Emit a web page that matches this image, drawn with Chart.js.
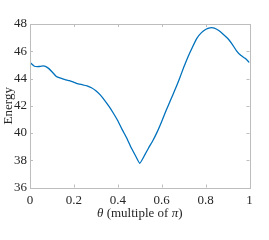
<!DOCTYPE html>
<html>
<head>
<meta charset="utf-8">
<script src="https://cdn.jsdelivr.net/npm/chart.js@4/dist/chart.umd.min.js"></script>
<style>
  html, body { margin: 0; padding: 0; background: #fff; }
  #wrap { width: 269px; height: 240px; position: relative; }
</style>
</head>
<body>
<div id="wrap"><canvas id="c" width="269" height="240"></canvas></div>
<script>
const thetaValues = [0.00,0.02,0.04,0.06,0.08,0.10,0.12,0.14,0.16,0.18,0.20,0.22,0.24,0.26,0.28,0.30,0.32,0.34,0.36,0.38,0.40,0.42,0.44,0.46,0.48,0.50,0.52,0.54,0.56,0.58,0.60,0.62,0.64,0.66,0.68,0.70,0.72,0.74,0.76,0.78,0.80,0.82,0.84,0.86,0.88,0.90,0.92,0.94,0.96,0.98,1.00];
const energyValues = [45.17,44.90,44.88,44.92,44.80,44.50,44.15,44.02,43.92,43.84,43.72,43.60,43.54,43.46,43.32,43.10,42.80,42.40,41.95,41.45,40.90,40.25,39.65,38.95,38.35,37.78,38.30,38.90,39.45,40.10,40.85,41.65,42.40,43.15,43.95,44.80,45.60,46.30,46.95,47.35,47.60,47.72,47.70,47.52,47.25,46.95,46.55,46.05,45.70,45.48,45.17];
const xTicks = [0, 0.2, 0.4, 0.6, 0.8, 1];
const yTicks = [36, 38, 40, 42, 44, 46, 48];
const xTitleParts = [["θ", true], [" (multiple of ", false], ["π", true], [")", false]];
const yTitle = "Energy";

const FONT = "'Liberation Serif', 'Times New Roman', serif";
const TEXT = "#262626";
const AXIS = "#bdbdbd";

const boxPlugin = {
  id: 'box',
  afterDatasetsDraw(chart) {
    const {ctx, chartArea: a, scales} = chart;
    ctx.save();
    ctx.strokeStyle = AXIS;
    ctx.lineWidth = 1;
    ctx.strokeRect(Math.round(a.left) + 0.5, Math.round(a.top) + 0.5, Math.round(a.right - a.left), Math.round(a.bottom - a.top));
    const tl = 3;
    ctx.beginPath();
    xTicks.forEach(v => {
      const x = Math.round(scales.x.getPixelForValue(v)) + 0.5;
      ctx.moveTo(x, a.bottom); ctx.lineTo(x, a.bottom - tl);
      ctx.moveTo(x, a.top); ctx.lineTo(x, a.top + tl);
    });
    yTicks.forEach(v => {
      const y = Math.round(scales.y.getPixelForValue(v)) + 0.5;
      ctx.moveTo(a.left, y); ctx.lineTo(a.left + tl, y);
      ctx.moveTo(a.right, y); ctx.lineTo(a.right - tl, y);
    });
    ctx.stroke();
    // x title with italic symbols
    const size = 13;
    const widths = xTitleParts.map(([t, it]) => {
      ctx.font = (it ? 'italic ' : '') + size + 'px ' + FONT;
      return ctx.measureText(t).width;
    });
    const total = widths.reduce((s, w) => s + w, 0);
    let x = (a.left + a.right) / 2 - total / 2;
    const y = 214;
    ctx.fillStyle = TEXT;
    ctx.textBaseline = 'middle';
    ctx.textAlign = 'left';
    xTitleParts.forEach(([t, it], i) => {
      ctx.font = (it ? 'italic ' : '') + size + 'px ' + FONT;
      ctx.fillText(t, x, y);
      x += widths[i];
    });
    ctx.restore();
  }
};

new Chart(document.getElementById('c'), {
  type: 'line',
  data: {
    datasets: [{
      data: thetaValues.map((t, i) => ({x: t, y: energyValues[i]})),
      borderColor: '#0072BD',
      borderWidth: 1.3,
      pointRadius: 0,
      tension: 0.15,
      fill: false
    }]
  },
  options: {
    responsive: false,
    animation: false,
    devicePixelRatio: 1,
    layout: { padding: { left: 0, top: 24, right: 19.5, bottom: 0 } },
    plugins: { legend: { display: false }, tooltip: { enabled: false } },
    scales: {
      x: {
        type: 'linear', min: 0, max: 1,
        afterFit(s) { s.height = 52.5; },
        afterBuildTicks(s) { s.ticks = xTicks.map(v => ({value: v})); },
        grid: { display: false, drawTicks: false },
        border: { display: false },
        ticks: {
          padding: 5,
          color: TEXT,
          font: { family: FONT, size: 13 },
          maxRotation: 0,
          callback: v => String(v)
        },
        title: { display: false }
      },
      y: {
        type: 'linear', min: 36, max: 48,
        afterFit(s) { s.width = 30; },
        afterBuildTicks(s) { s.ticks = yTicks.map(v => ({value: v})); },
        grid: { display: false, drawTicks: false },
        border: { display: false },
        ticks: {
          padding: 3,
          color: TEXT,
          font: { family: FONT, size: 13 },
          callback: v => String(v)
        },
        title: {
          display: true,
          text: yTitle,
          color: TEXT,
          font: { family: FONT, size: 13 },
          padding: { top: 1, bottom: 0 }
        }
      }
    }
  },
  plugins: [boxPlugin]
});
</script>
</body>
</html>
